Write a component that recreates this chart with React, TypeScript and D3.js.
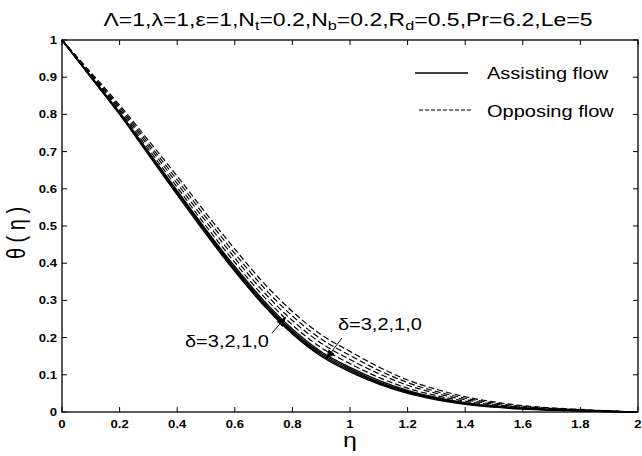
import React from "react";
import * as d3 from "d3";

// η grid
const eta = [0, 0.1, 0.2, 0.3, 0.4, 0.5, 0.6, 0.7, 0.8, 0.9, 1.0, 1.1, 1.2, 1.3, 1.4, 1.5, 1.6, 1.7, 1.8, 1.9, 2.0];

// Assisting flow (solid), δ = 3,2,1,0
const assistingD3 = [1.0, 0.900, 0.800, 0.692, 0.584, 0.478, 0.378, 0.287, 0.210, 0.150, 0.108, 0.075, 0.050, 0.033, 0.021, 0.013, 0.008, 0.005, 0.003, 0.001, 0.0];
const assistingD2 = [1.0, 0.901, 0.802, 0.695, 0.588, 0.482, 0.382, 0.291, 0.214, 0.154, 0.112, 0.078, 0.053, 0.035, 0.022, 0.014, 0.009, 0.005, 0.003, 0.001, 0.0];
const assistingD1 = [1.0, 0.902, 0.804, 0.697, 0.591, 0.486, 0.386, 0.295, 0.218, 0.158, 0.116, 0.081, 0.055, 0.037, 0.024, 0.015, 0.009, 0.006, 0.004, 0.001, 0.0];
const assistingD0 = [1.0, 0.903, 0.805, 0.700, 0.595, 0.490, 0.391, 0.300, 0.223, 0.162, 0.120, 0.085, 0.058, 0.039, 0.025, 0.016, 0.010, 0.006, 0.004, 0.002, 0.0];

// Opposing flow (dashed), δ = 3,2,1,0
const opposingD3 = [1.0, 0.905, 0.810, 0.707, 0.604, 0.500, 0.402, 0.311, 0.234, 0.173, 0.130, 0.093, 0.064, 0.044, 0.029, 0.019, 0.012, 0.007, 0.005, 0.002, 0.0];
const opposingD2 = [1.0, 0.908, 0.815, 0.715, 0.614, 0.512, 0.414, 0.323, 0.246, 0.185, 0.141, 0.103, 0.072, 0.050, 0.033, 0.021, 0.013, 0.009, 0.005, 0.002, 0.0];
const opposingD1 = [1.0, 0.910, 0.820, 0.722, 0.624, 0.523, 0.426, 0.335, 0.258, 0.196, 0.152, 0.112, 0.079, 0.055, 0.037, 0.024, 0.015, 0.010, 0.006, 0.003, 0.0];
const opposingD0 = [1.0, 0.913, 0.825, 0.730, 0.634, 0.534, 0.438, 0.347, 0.270, 0.208, 0.163, 0.121, 0.086, 0.061, 0.041, 0.027, 0.017, 0.011, 0.007, 0.003, 0.0];

const assistingSeries = [assistingD3, assistingD2, assistingD1, assistingD0];
const opposingSeries = [opposingD3, opposingD2, opposingD1, opposingD0];

const xTicks = [0, 0.2, 0.4, 0.6, 0.8, 1, 1.2, 1.4, 1.6, 1.8, 2];
const yTicks = [0, 0.1, 0.2, 0.3, 0.4, 0.5, 0.6, 0.7, 0.8, 0.9, 1];

const legendLabels = ["Assisting flow", "Opposing flow"];
const annotationText = "δ=3,2,1,0";

const W = 642;
const H = 456;
const M = { left: 62, right: 638, top: 40, bottom: 412 };
const SX = 1.25;
const FONT = "'Liberation Sans', Arial, Helvetica, sans-serif";

function SText(props: any) {
  const { x, y, anchor = "start", size = 16, weight = "normal", children, sx = SX } = props;
  return (
    <g transform={`translate(${x},${y}) scale(${sx},1)`}>
      <text textAnchor={anchor} fontSize={size} fontWeight={weight} fontFamily={FONT} fill="#000">
        {children}
      </text>
    </g>
  );
}

export default function App() {
  const x = d3.scaleLinear().domain([0, 2]).range([M.left, M.right]);
  const y = d3.scaleLinear().domain([0, 1]).range([M.bottom, M.top]);
  const line = d3
    .line<number>()
    .x((_, i) => x(eta[i]))
    .y((d) => y(d))
    .curve(d3.curveMonotoneX);
  const fmt = d3.format("~g");
  const tl = 5;

  return (
    <svg width={W} height={H} style={{ position: "absolute", left: 0, top: 0, background: "#fff" }}>
      <defs>
        <marker id="ah" viewBox="0 0 10 10" refX="9" refY="5" markerWidth="10" markerHeight="10" orient="auto" markerUnits="userSpaceOnUse">
          <path d="M0,1 L10,5 L0,9 Z" fill="#000" />
        </marker>
      </defs>
      <rect x={0} y={0} width={W} height={H} fill="#fff" />

      {/* curves */}
      {opposingSeries.map((s, i) => (
        <path key={"o" + i} d={line(s) || ""} fill="none" stroke="#000" strokeWidth={1.2} strokeDasharray="6,3" />
      ))}
      {assistingSeries.map((s, i) => (
        <path key={"a" + i} d={line(s) || ""} fill="none" stroke="#000" strokeWidth={1.4} />
      ))}

      {/* axes box */}
      <rect x={M.left} y={M.top} width={M.right - M.left} height={M.bottom - M.top} fill="none" stroke="#000" strokeWidth={1.3} />
      {xTicks.map((t) => (
        <g key={"xt" + t}>
          <line x1={x(t)} x2={x(t)} y1={M.bottom} y2={M.bottom - tl} stroke="#000" />
          <line x1={x(t)} x2={x(t)} y1={M.top} y2={M.top + tl} stroke="#000" />
          <SText x={x(t)} y={M.bottom + 16} anchor="middle" size={10.5} weight="bold">
            {fmt(t)}
          </SText>
        </g>
      ))}
      {yTicks.map((t) => (
        <g key={"yt" + t}>
          <line x1={M.left} x2={M.left + tl} y1={y(t)} y2={y(t)} stroke="#000" />
          <line x1={M.right} x2={M.right - tl} y1={y(t)} y2={y(t)} stroke="#000" />
          <SText x={M.left - 5} y={y(t) + 4} anchor="end" size={10.5} weight="bold">
            {fmt(t)}
          </SText>
        </g>
      ))}

      {/* axis labels */}
      <SText x={(M.left + M.right) / 2} y={447} anchor="middle" size={20}>
        η
      </SText>
      <g transform={`translate(25,${(M.top + M.bottom) / 2 + 7}) rotate(-90) scale(1,${SX})`}>
        <text textAnchor="middle" fontSize={20} fontFamily={FONT} fill="#000">
          θ ( η )
        </text>
      </g>

      {/* title */}
      <g transform={`translate(348,26) scale(${SX},1)`}>
        <text textAnchor="middle" fontSize={18.4} fontFamily={FONT} fill="#000">
          Λ=1,λ=1,ε=1,N<tspan fontSize={13} dy={4}>t</tspan>
          <tspan dy={-4}>=0.2,N</tspan>
          <tspan fontSize={13} dy={4}>b</tspan>
          <tspan dy={-4}>=0.2,R</tspan>
          <tspan fontSize={13} dy={4}>d</tspan>
          <tspan dy={-4}>=0.5,Pr=6.2,Le=5</tspan>
        </text>
      </g>

      {/* legend */}
      <line x1={415} x2={468} y1={73} y2={73} stroke="#000" strokeWidth={1.6} />
      <SText x={487} y={79} size={16}>{legendLabels[0]}</SText>
      <line x1={419} x2={472} y1={110} y2={110} stroke="#000" strokeWidth={1} strokeDasharray="4,2" />
      <SText x={487} y={117} size={16}>{legendLabels[1]}</SText>

      {/* annotations */}
      <SText x={x(0.427)} y={y(0.175)} size={16}>{annotationText}</SText>
      <line x1={x(0.729)} y1={y(0.212)} x2={x(0.776)} y2={y(0.254)} stroke="#000" strokeWidth={1} markerEnd="url(#ah)" />
      <SText x={x(0.958)} y={y(0.22)} size={16}>{annotationText}</SText>
      <line x1={x(0.972)} y1={y(0.199)} x2={x(0.918)} y2={y(0.143)} stroke="#000" strokeWidth={1} markerEnd="url(#ah)" />
    </svg>
  );
}
